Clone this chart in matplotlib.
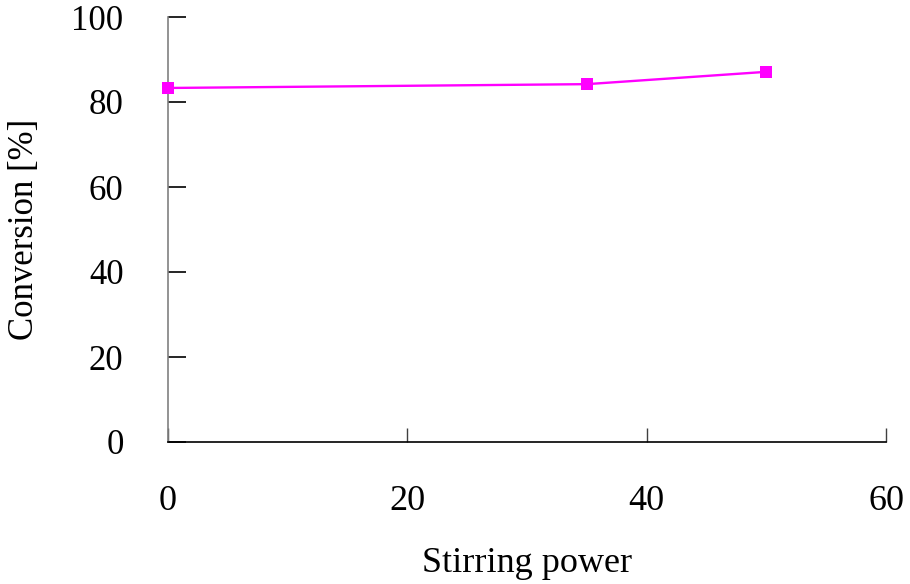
import matplotlib
matplotlib.use("Agg")
import matplotlib.pyplot as plt

# Conversion vs. stirring power
stirring_power = [0, 35, 50]
conversion = [83.3, 84.2, 87.1]

x_ticks = [0, 20, 40, 60]
y_ticks = [0, 20, 40, 60, 80, 100]

plt.rcParams['font.family'] = ['Liberation Serif', 'DejaVu Serif']

fig = plt.figure(figsize=(9.10, 5.84), dpi=100)
ax = fig.add_axes([168/910, 1-442/584, (886-168)/910, (442-17)/584])

ax.plot(stirring_power, conversion, color='#FF00FF', linewidth=1.7,
        marker='s', markersize=8.2, markeredgewidth=0, zorder=3, clip_on=False)

ax.set_xlim(0, 60)
ax.set_ylim(0, 100)
ax.set_xticks(x_ticks)
ax.set_yticks(y_ticks)

for side in ('top', 'right'):
    ax.spines[side].set_visible(False)
ax.spines['left'].set_color('#808080')
ax.spines['left'].set_linewidth(1.2)
ax.spines['bottom'].set_color('black')
ax.spines['bottom'].set_linewidth(1.2)

ax.tick_params(axis='y', direction='in', length=13, width=1.2, pad=32,
               labelsize=25, color='black')
ax.tick_params(axis='x', direction='in', length=10, width=1.0, pad=31,
               labelsize=26, color='#404040')

ax.set_xlabel('Stirring power', fontsize=26, labelpad=21)
ax.set_ylabel('Conversion [%]', fontsize=25, labelpad=22)

fig.savefig('out.png', dpi=100)
